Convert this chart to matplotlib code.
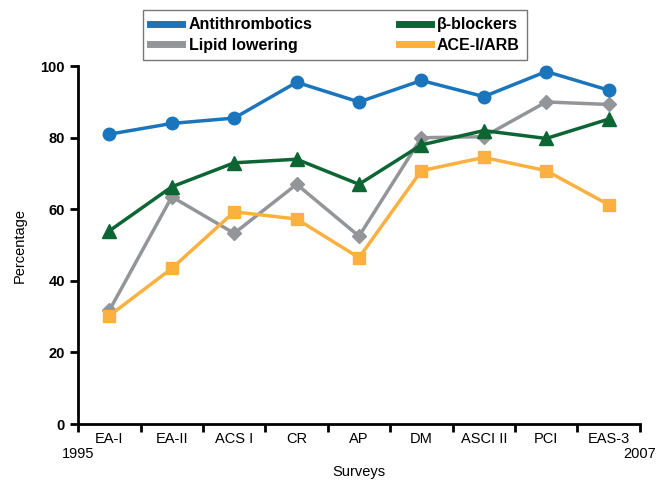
import matplotlib
matplotlib.use("Agg")
import matplotlib.pyplot as plt
from matplotlib.lines import Line2D
import numpy as np

plt.rcParams['font.family'] = ['Liberation Sans', 'DejaVu Sans']

surveys = ["EA-I", "EA-II", "ACS I", "CR", "AP", "DM", "ASCI II", "PCI", "EAS-3"]
antithrombotics = [81, 84, 85.5, 95.5, 90, 96, 91.5, 98.5, 93.3]
beta_blockers = [54, 66.3, 73, 74, 67, 78, 82, 79.8, 85.2]
lipid_lowering = [31.8, 63.5, 53.3, 67, 52.5, 80, 80.3, 90, 89.3]
ace_arb = [30.3, 43.5, 59.3, 57.3, 46.5, 70.8, 74.5, 70.8, 61.3]

c_blue = "#1a75bc"
c_green = "#0b6633"
c_gray = "#939598"
c_orange = "#fbb040"

fig = plt.figure(figsize=(6.63, 4.83), dpi=100)
ax = fig.add_axes([0.118, 0.122, 0.847, 0.741])

x = np.arange(len(surveys)) + 0.5
ax.plot(x, lipid_lowering, color=c_gray, lw=2.5, marker="D", ms=7, clip_on=False, zorder=3)
ax.plot(x, ace_arb, color=c_orange, lw=2.5, marker="s", ms=9, clip_on=False, zorder=3)
ax.plot(x, beta_blockers, color=c_green, lw=2.5, marker="^", ms=10, clip_on=False, zorder=4)
ax.plot(x, antithrombotics, color=c_blue, lw=2.5, marker="o", ms=9, clip_on=False, zorder=5)

ax.set_xlim(0, len(surveys))
ax.set_ylim(0, 100)
ax.set_yticks([0, 20, 40, 60, 80, 100])
for lbl in ax.get_yticklabels():
    lbl.set_fontweight("bold")
ax.tick_params(axis="y", labelsize=10.5, width=2, length=6, direction="out")

ax.set_xticks(x)
ax.set_xticklabels(surveys)
ax.set_xticks(np.arange(len(surveys) + 1), minor=True)
ax.tick_params(axis="x", which="major", length=0, labelsize=10.5, pad=6)
ax.tick_params(axis="x", which="minor", length=6, width=2, direction="out")

for s in ["top", "right"]:
    ax.spines[s].set_visible(False)
for s in ["left", "bottom"]:
    ax.spines[s].set_linewidth(2)

ax.text(0, -0.084, "1995", transform=ax.transAxes, ha="center", va="center", fontsize=10.5)
ax.text(1, -0.084, "2007", transform=ax.transAxes, ha="center", va="center", fontsize=10.5)
ax.text(0.5, -0.134, "Surveys", transform=ax.transAxes, ha="center", va="center", fontsize=10.5)
ax.set_ylabel("Percentage", fontsize=10.5, labelpad=10)

handles = [
    Line2D([], [], color=c_blue, lw=5),
    Line2D([], [], color=c_gray, lw=5),
    Line2D([], [], color=c_green, lw=5),
    Line2D([], [], color=c_orange, lw=5),
]
labels = ["Antithrombotics", "Lipid lowering", "β-blockers", "ACE-I/ARB"]
leg = fig.legend(handles, labels, loc="lower left", ncol=2, mode="expand",
                 bbox_to_anchor=(0.216, 0.876, 0.579, 0.101),
                 prop={"weight": "bold", "size": 11.5}, fancybox=False,
                 edgecolor="#555555", handlelength=2.0, handletextpad=0.4,
                 labelspacing=0.35, borderpad=0.45, borderaxespad=0)
leg.get_frame().set_linewidth(1)

fig.savefig("out.png", dpi=100)
